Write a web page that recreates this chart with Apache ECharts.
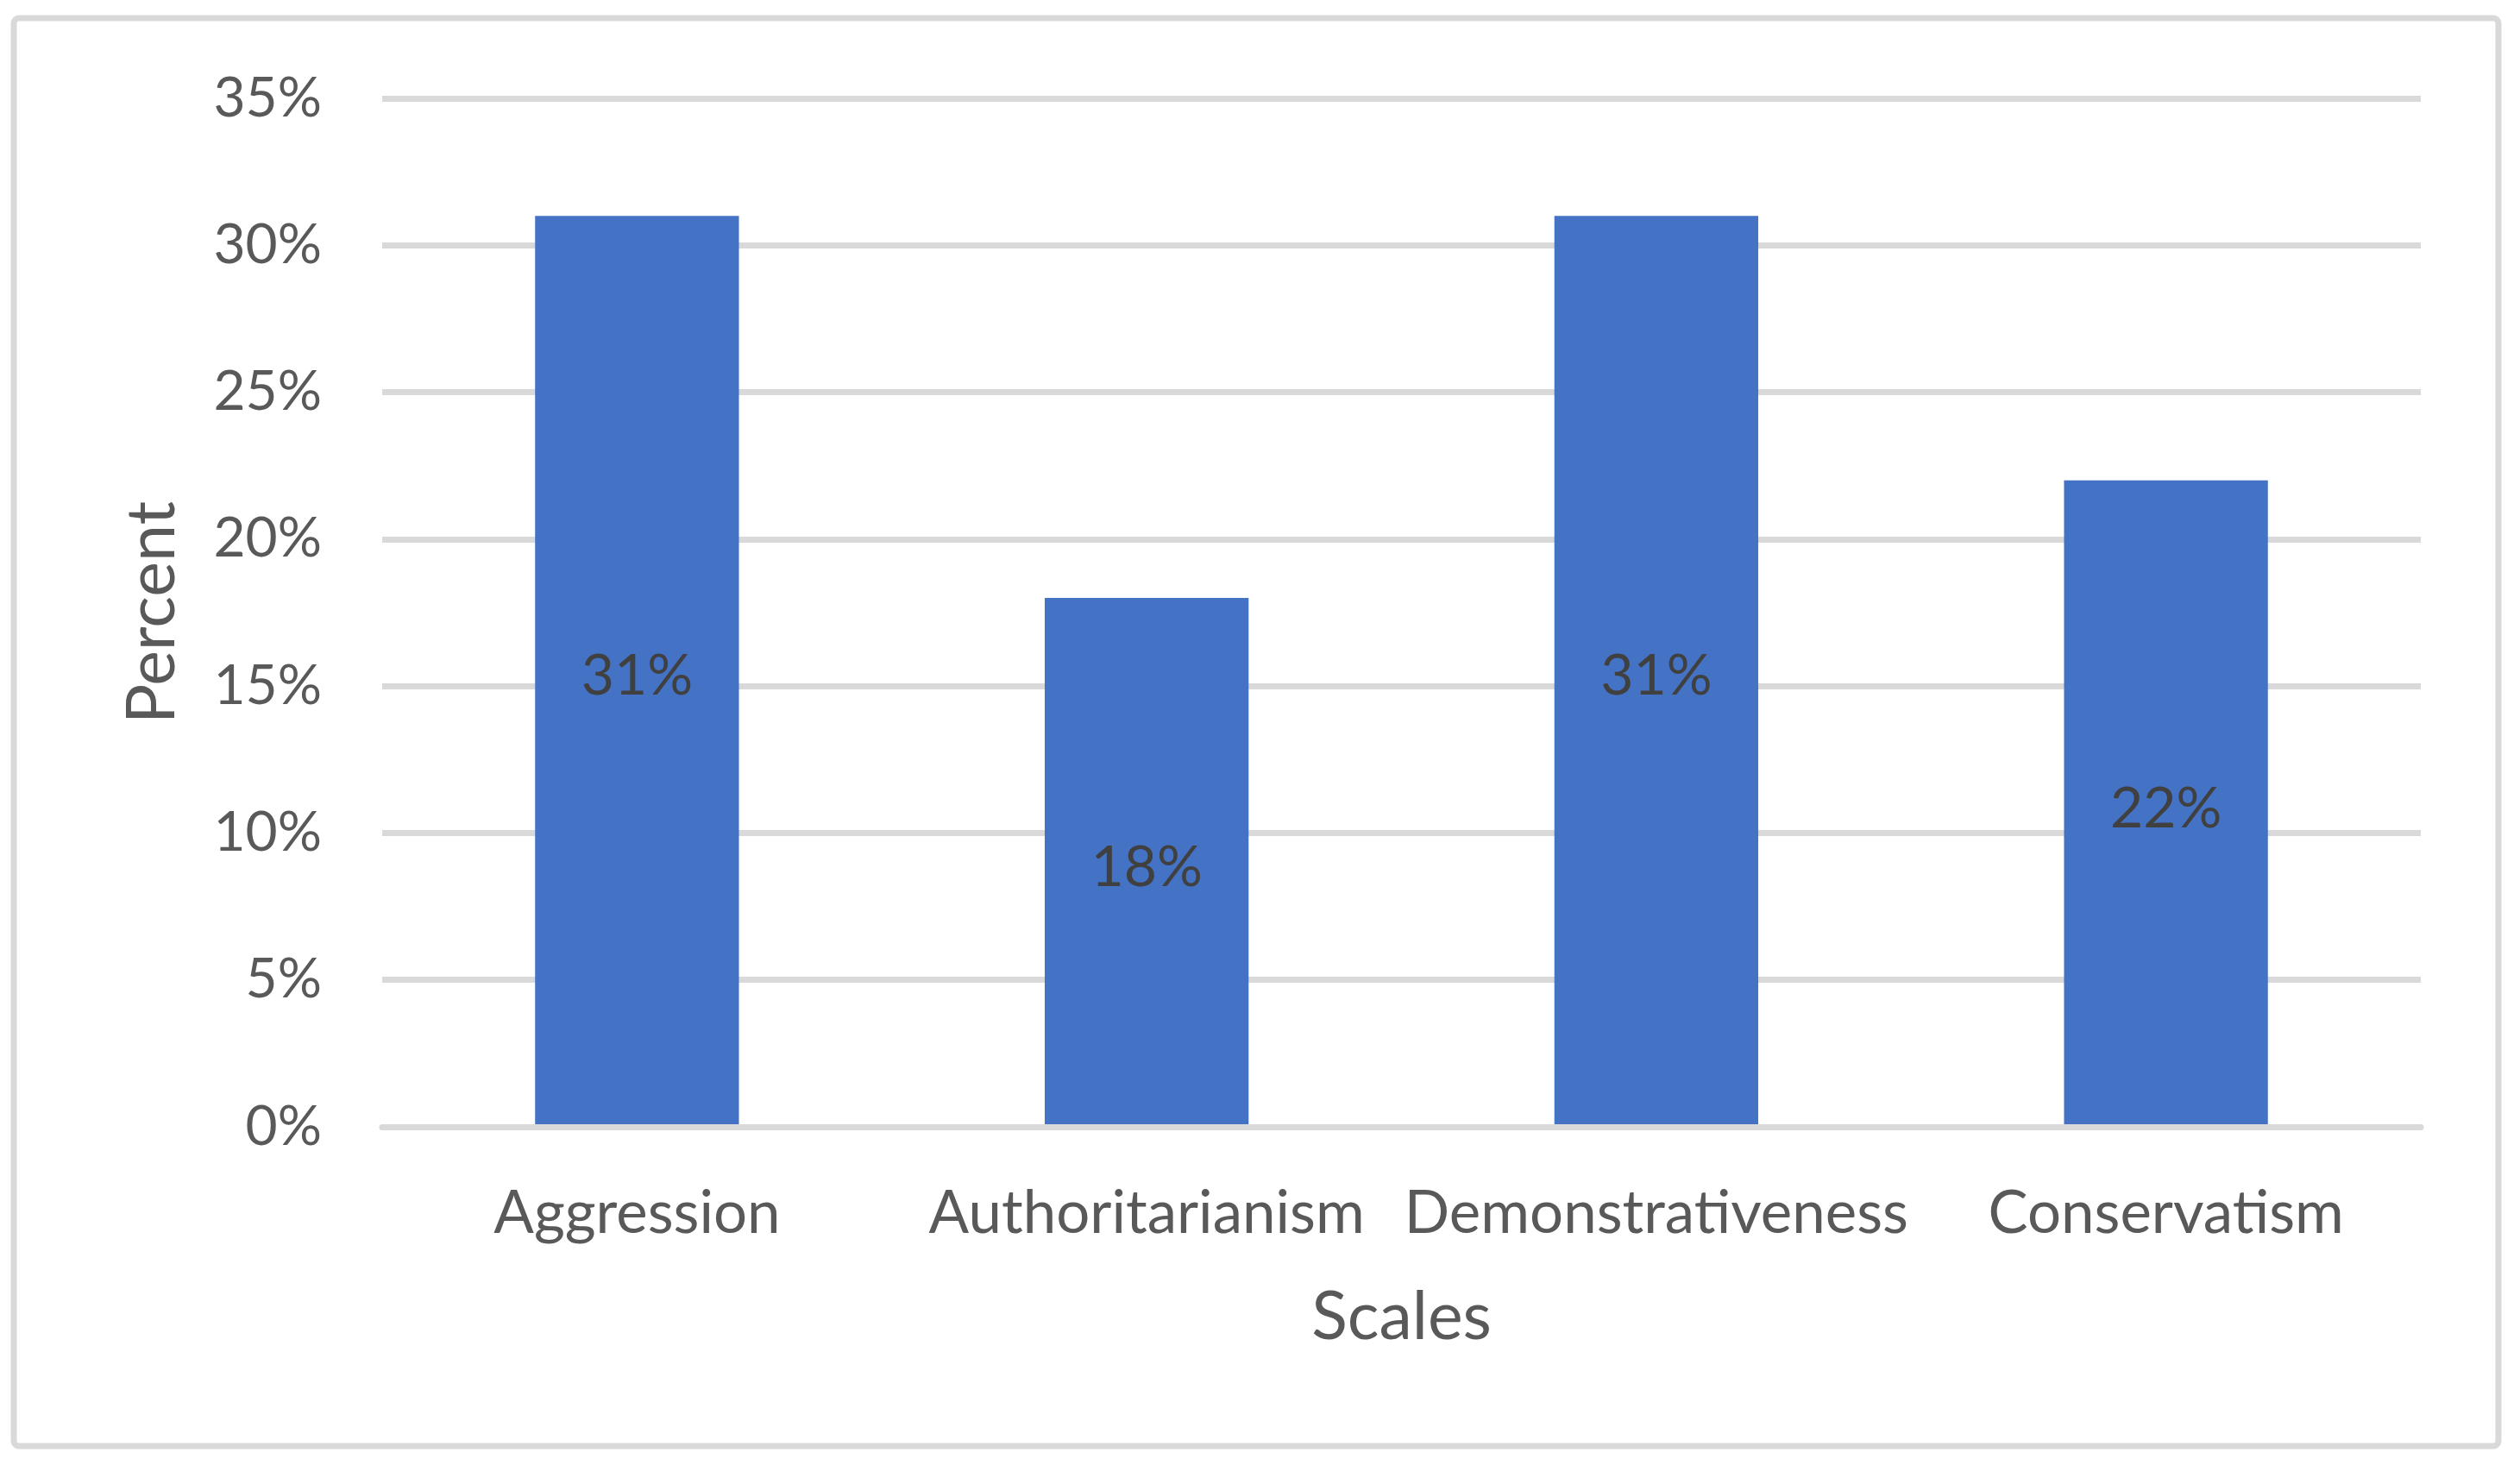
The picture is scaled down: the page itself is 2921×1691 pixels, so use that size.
<!DOCTYPE html>
<html>
<head>
<meta charset="utf-8">
<script src="https://cdn.jsdelivr.net/npm/echarts@6/dist/echarts.min.js"></script>
<style>
  html, body { margin: 0; padding: 0; background: #fff; }
  #chart { width: 2921px; height: 1691px; }
</style>
</head>
<body>
<div id="chart"></div>
<script>
// chart data
const scales = ['Aggression', 'Authoritarianism', 'Demonstrativeness', 'Conservatism']
const percents = [31, 18, 31, 22]
const yTicks = [0, 5, 10, 15, 20, 25, 30, 35]

const FONT = 'Lato'

const chart = echarts.init(document.getElementById('chart'))

const option = {
  backgroundColor: '#ffffff',
  animation: false,
  graphic: [{
    type: 'rect',
    shape: { x: 16, y: 21, width: 2880, height: 1655, r: 6 },
    style: { fill: 'none', stroke: '#d9d9d9', lineWidth: 7 },
    silent: true
  }],
  grid: {
    left: 443,
    right: 115,
    top: 114,
    bottom: 385
  },
  xAxis: {
    type: 'category',
    data: scales,
    z: 5,
    name: 'Scales',
    nameLocation: 'middle',
    nameGap: 183,
    nameTextStyle: {
      fontFamily: FONT,
      fontSize: 77,
      color: '#595959'
    },
    axisTick: { show: false },
    axisLine: {
      lineStyle: { color: '#d9d9d9', width: 7 }
    },
    axisLabel: {
      fontFamily: FONT,
      fontSize: 69,
      color: '#595959',
      margin: 66,
      interval: 0
    }
  },
  yAxis: {
    type: 'value',
    min: yTicks[0],
    max: yTicks[yTicks.length - 1],
    interval: 5,
    name: 'Percent',
    nameLocation: 'middle',
    nameGap: 227,
    nameTextStyle: {
      fontFamily: FONT,
      fontSize: 77,
      color: '#595959'
    },
    axisLine: { show: false },
    axisTick: { show: false },
    axisLabel: {
      fontFamily: FONT,
      fontSize: 64,
      color: '#595959',
      margin: 70,
      formatter: v => v + '%'
    },
    splitLine: {
      lineStyle: { color: '#d9d9d9', width: 7 }
    }
  },
  series: [{
    type: 'bar',
    data: percents,
    barWidth: '40%',
    itemStyle: { color: '#4472c4' },
    label: {
      show: true,
      position: 'inside',
      offset: [0, 6],
      fontFamily: FONT,
      fontSize: 66,
      color: '#404040',
      formatter: p => p.value + '%'
    }
  }]
}

chart.setOption(option)
</script>
</body>
</html>
